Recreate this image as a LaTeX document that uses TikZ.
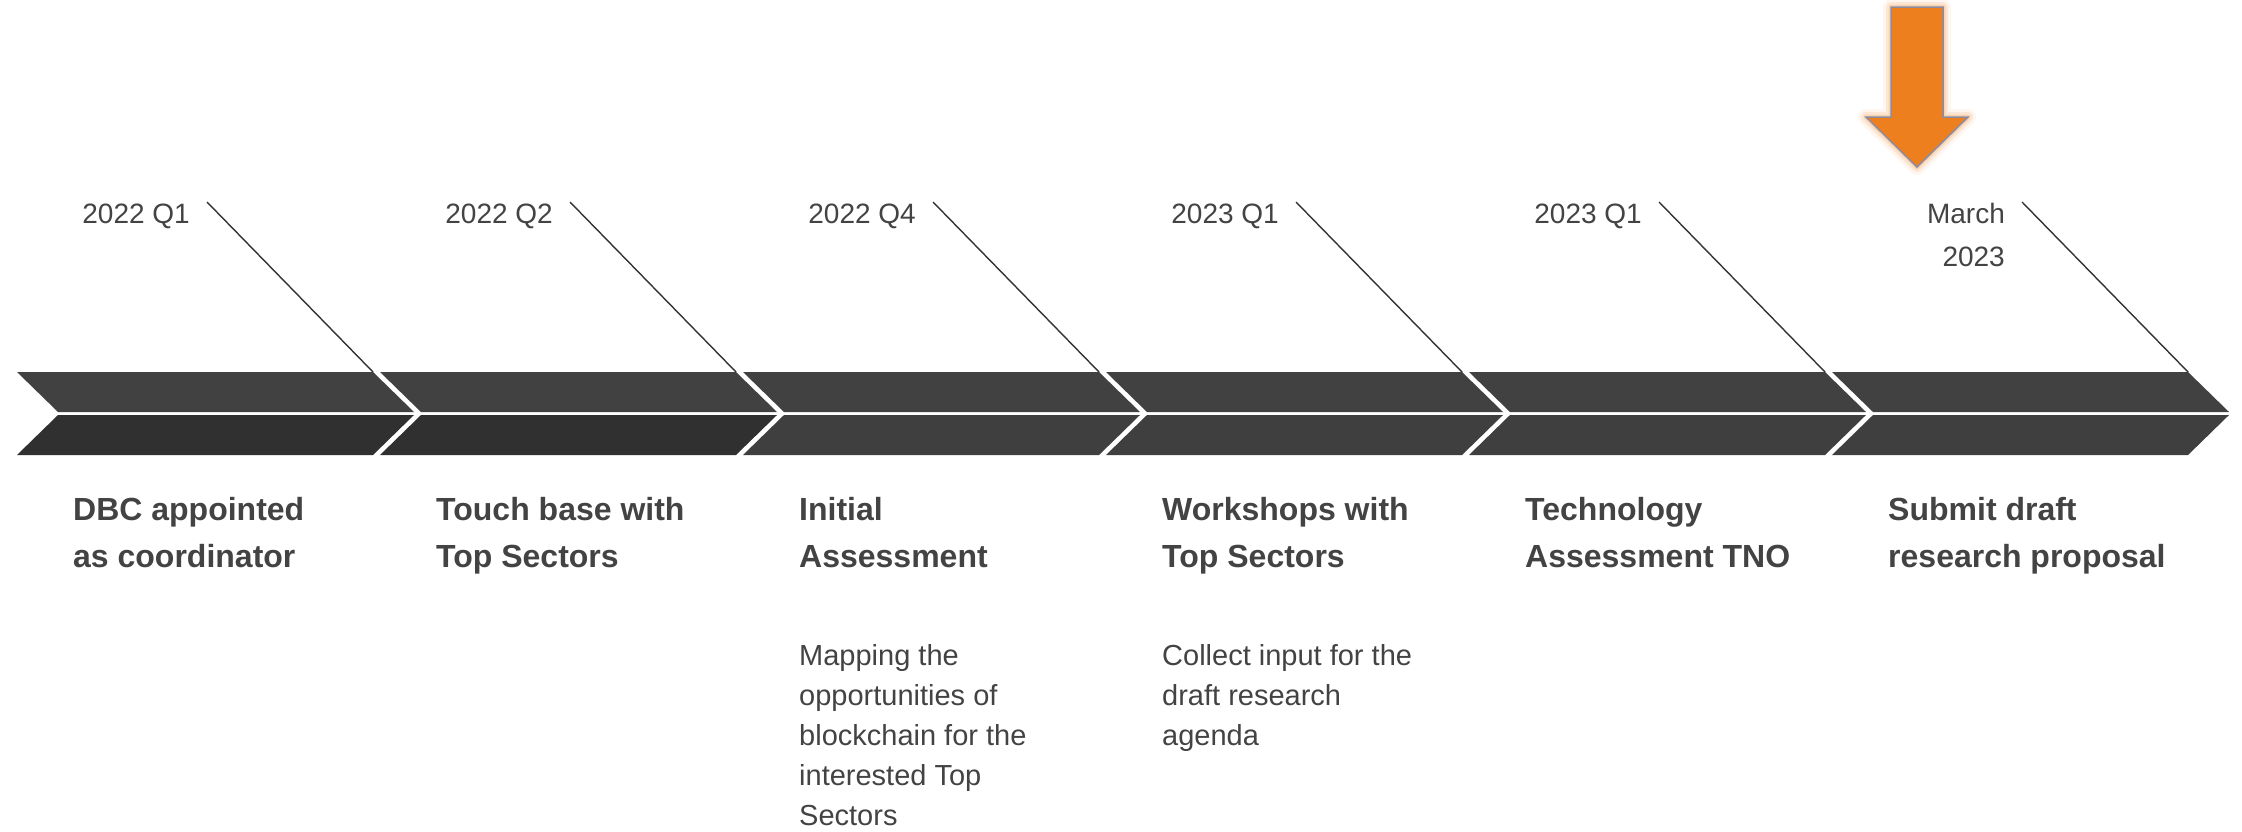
\documentclass[tikz,border=0pt]{standalone}
\usepackage{fontspec}
\setmainfont{Liberation Sans}

\definecolor{bandtop}{HTML}{414141}
\definecolor{banddark}{HTML}{303030}
\definecolor{bandlow}{HTML}{3F3F3F}
\definecolor{txtgray}{HTML}{434343}
\definecolor{markorange}{HTML}{EE7F1E}
\definecolor{arrowrim}{HTML}{8C8CA0}

\tikzset{
  datelabel/.style={anchor=base east, inner sep=0pt, text=txtgray,
    font=\fontsize{28}{43}\selectfont, align=right},
  steptitle/.style={anchor=base west, inner sep=0pt, text=txtgray,
    font=\fontsize{32}{47}\selectfont\bfseries, align=left},
  stepnote/.style={anchor=base west, inner sep=0pt, text=txtgray,
    font=\fontsize{29}{40}\selectfont, align=left},
  leader/.style={draw=black!80, line width=1.4pt}
}

\begin{document}
\begin{tikzpicture}[x=1pt, y=-1pt]
    \useasboundingbox (0,0) rectangle (2242,831);

    % Chevron band, upper and lower halves
    \foreach \k/\low in {0/banddark,1/banddark,2/bandlow,3/bandlow,4/bandlow,5/bandlow} {
        \fill[bandtop] (17+363*\k,372) -- (373+363*\k,372) -- (414+363*\k,412) -- (58+363*\k,412) -- cycle;
        \fill[\low] (58+363*\k,415) -- (414+363*\k,415) -- (373+363*\k,455) -- (17+363*\k,455) -- cycle;
    }

    % Leader lines from the dates to the band
    \foreach \k in {0,...,5} {
        \coordinate (top\k) at (207+363*\k,202);
        \coordinate (corner\k) at (373+363*\k,372);
        \draw[leader] (top\k) -- (corner\k);
    }

    % Dates (base anchor sits on the last line)
    \node[datelabel] (date0) at (190,223) {2022 Q1};
    \node[datelabel] (date1) at (553,223) {2022 Q2};
    \node[datelabel] (date2) at (916,223) {2022 Q4};
    \node[datelabel] (date3) at (1279,223) {2023 Q1};
    \node[datelabel] (date4) at (1642,223) {2023 Q1};
    \node[datelabel] (date5) at (2005,266) {March\\2023};

    % Step titles
    \node[steptitle] (title0) at (73,567) {DBC appointed\\as coordinator};
    \node[steptitle] (title1) at (436,567) {Touch base with\\Top Sectors};
    \node[steptitle] (title2) at (799,567) {Initial\\Assessment};
    \node[steptitle] (title3) at (1162,567) {Workshops with\\Top Sectors};
    \node[steptitle] (title4) at (1525,567) {Technology\\Assessment TNO};
    \node[steptitle] (title5) at (1888,567) {Submit draft\\research proposal};

    % Notes
    \node[stepnote] (note2) at (799,825) {Mapping the\\opportunities of\\blockchain for the\\interested Top\\Sectors};
    \node[stepnote] (note3) at (1162,745) {Collect input for the\\draft research\\agenda};

    % Current step marker
    \foreach \w/\o in {16/0.10,10/0.18,5/0.3} {
        \draw[markorange!70, line width=\w pt, opacity=\o, line join=round]
            (1891,7) -- (1943,7) -- (1943,117) -- (1968,117) -- (1917,167) -- (1866,117) -- (1891,117) -- cycle;
    }
    \filldraw[fill=markorange, draw=arrowrim, line width=1.5pt]
        (1891,7) -- (1943,7) -- (1943,117) -- (1968,117) -- (1917,167) -- (1866,117) -- (1891,117) -- cycle;
\end{tikzpicture}
\end{document}
